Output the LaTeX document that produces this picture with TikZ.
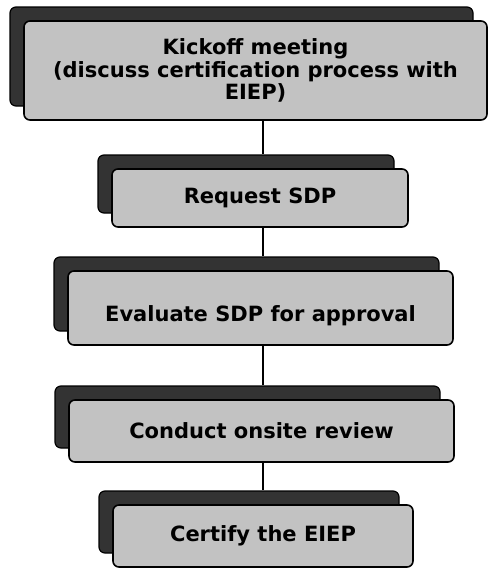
\documentclass[tikz,border=0pt]{standalone}
\usepackage{fontspec}
\setmainfont{DejaVu Sans}
\usetikzlibrary{shadows}
\definecolor{boxgray}{HTML}{C2C2C2}
\definecolor{backgray}{HTML}{333333}
\begin{document}
\begin{tikzpicture}[x=1pt,y=-1pt,
    stepbox/.style={draw=black, line width=1.6pt, rounded corners=6pt,
        fill=boxgray, align=center, inner sep=0pt,
        font=\fontsize{21}{22.5}\selectfont\bfseries,
        copy shadow={shadow xshift=-14pt, shadow yshift=14pt,
            fill=backgray, draw=black, line width=1.2pt}},
    link/.style={line width=1.6pt}]
        \useasboundingbox (0,0) rectangle (488,570);

        % Define nodes
        \node[stepbox, minimum width=463pt, minimum height=99pt] (kick) at (255.5,70.5)
            {Kickoff meeting\\(discuss certification process with\\EIEP)};
        \node[stepbox, minimum width=296pt, minimum height=58pt] (req) at (260,198) {Request SDP};
        \node[stepbox, minimum width=385pt, minimum height=74pt] (eval) at (260.5,308)
            {\raisebox{-8pt}[\height][\depth]{Evaluate SDP for approval}};
        \node[stepbox, minimum width=385pt, minimum height=62pt] (onsite) at (261.5,431) {Conduct onsite review};
        \node[stepbox, minimum width=300pt, minimum height=62pt] (cert) at (263,536) {Certify the EIEP};
        \coordinate (spine) at (263,0);

        % Draw links
        \draw[link] (kick.south -| spine) -- ([yshift=14pt]req.north -| spine);
        \draw[link] (req.south -| spine) -- ([yshift=14pt]eval.north -| spine);
        \draw[link] (eval.south -| spine) -- ([yshift=14pt]onsite.north -| spine);
        \draw[link] (onsite.south -| spine) -- ([yshift=14pt]cert.north -| spine);
    \end{tikzpicture}
\end{document}
